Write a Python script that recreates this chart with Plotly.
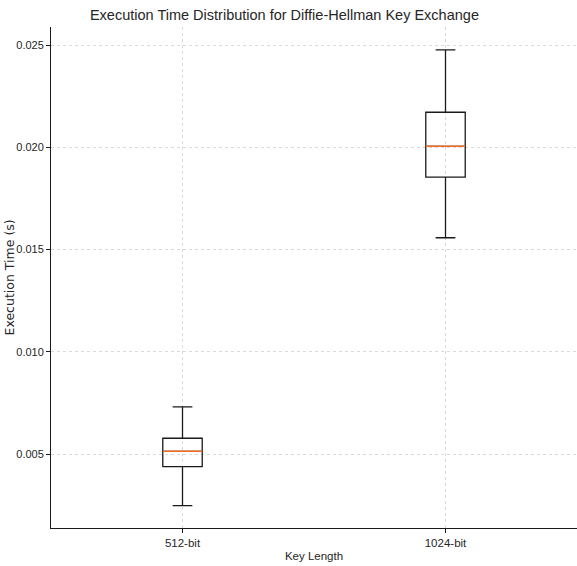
import plotly.graph_objects as go

# Data
key_lengths = ["512-bit", "1024-bit"]
positions = [1, 2]
lower_whisker = [0.00247, 0.01558]
q1_vals = [0.00438, 0.01855]
median_vals = [0.00513, 0.02005]
q3_vals = [0.00577, 0.02172]
upper_whisker = [0.00731, 0.02477]
y_ticks = [0.005, 0.010, 0.015, 0.020, 0.025]

BOX_W = 0.15
COND = "Liberation Sans Narrow, Liberation Sans, Arial, sans-serif"

fig = go.Figure()
fig.add_trace(go.Box(
    x=positions, q1=q1_vals, median=median_vals, q3=q3_vals,
    lowerfence=lower_whisker, upperfence=upper_whisker,
    width=BOX_W, whiskerwidth=0.5,
    line=dict(color="#1a1a1a", width=1.3),
    fillcolor="rgba(0,0,0,0)", boxpoints=False,
    showlegend=False, hoverinfo="skip",
))

mx, my = [], []
for p, m in zip(positions, median_vals):
    mx += [p - BOX_W / 2, p + BOX_W / 2, None]
    my += [m, m, None]
fig.add_trace(go.Scatter(x=mx, y=my, mode="lines",
                         line=dict(color="#f26b21", width=1.5),
                         showlegend=False, hoverinfo="skip"))

fig.update_layout(
    width=577, height=566,
    margin=dict(l=51, r=0, t=27, b=38),
    plot_bgcolor="white", paper_bgcolor="white",
    title=dict(text="Execution Time Distribution for Diffie-Hellman Key Exchange",
               font=dict(family=COND, size=14.5, color="#262626"),
               x=0.493, xref="container", xanchor="center",
               y=1 - 15 / 566, yref="container", yanchor="middle"),
    xaxis=dict(range=[0.5, 2.5], tickvals=positions, ticktext=key_lengths,
               automargin=False,
               showline=True, linecolor="#1a1a1a", linewidth=1,
               ticks="outside", ticklen=4, tickcolor="#1a1a1a",
               showgrid=True, gridcolor="#dadada", griddash="dot", gridwidth=1,
               zeroline=False,
               tickfont=dict(family=COND, size=11.5, color="#262626"),
               title=dict(text="Key Length", standoff=4,
                          font=dict(family=COND, size=11.5, color="#262626"))),
    yaxis=dict(range=[0.00138, 0.02589], tickvals=y_ticks, tickformat=".3f",
               automargin=False,
               showline=True, linecolor="#1a1a1a", linewidth=1,
               ticks="outside", ticklen=4, tickcolor="#1a1a1a",
               showgrid=True, gridcolor="#dadada", griddash="dot", gridwidth=1,
               zeroline=False,
               tickfont=dict(family=COND, size=11, color="#262626")),
    annotations=[dict(text="Execution Time (s)", textangle=-90,
                      xref="paper", yref="paper", x=(9 - 51) / 526, y=0.5,
                      xanchor="center", yanchor="middle", showarrow=False,
                      font=dict(family="DejaVu Sans", size=12.5, color="#262626"))],
)

fig.write_html("out.html", config={"displayModeBar": False},
               post_script="document.body.style.margin='0px';")
